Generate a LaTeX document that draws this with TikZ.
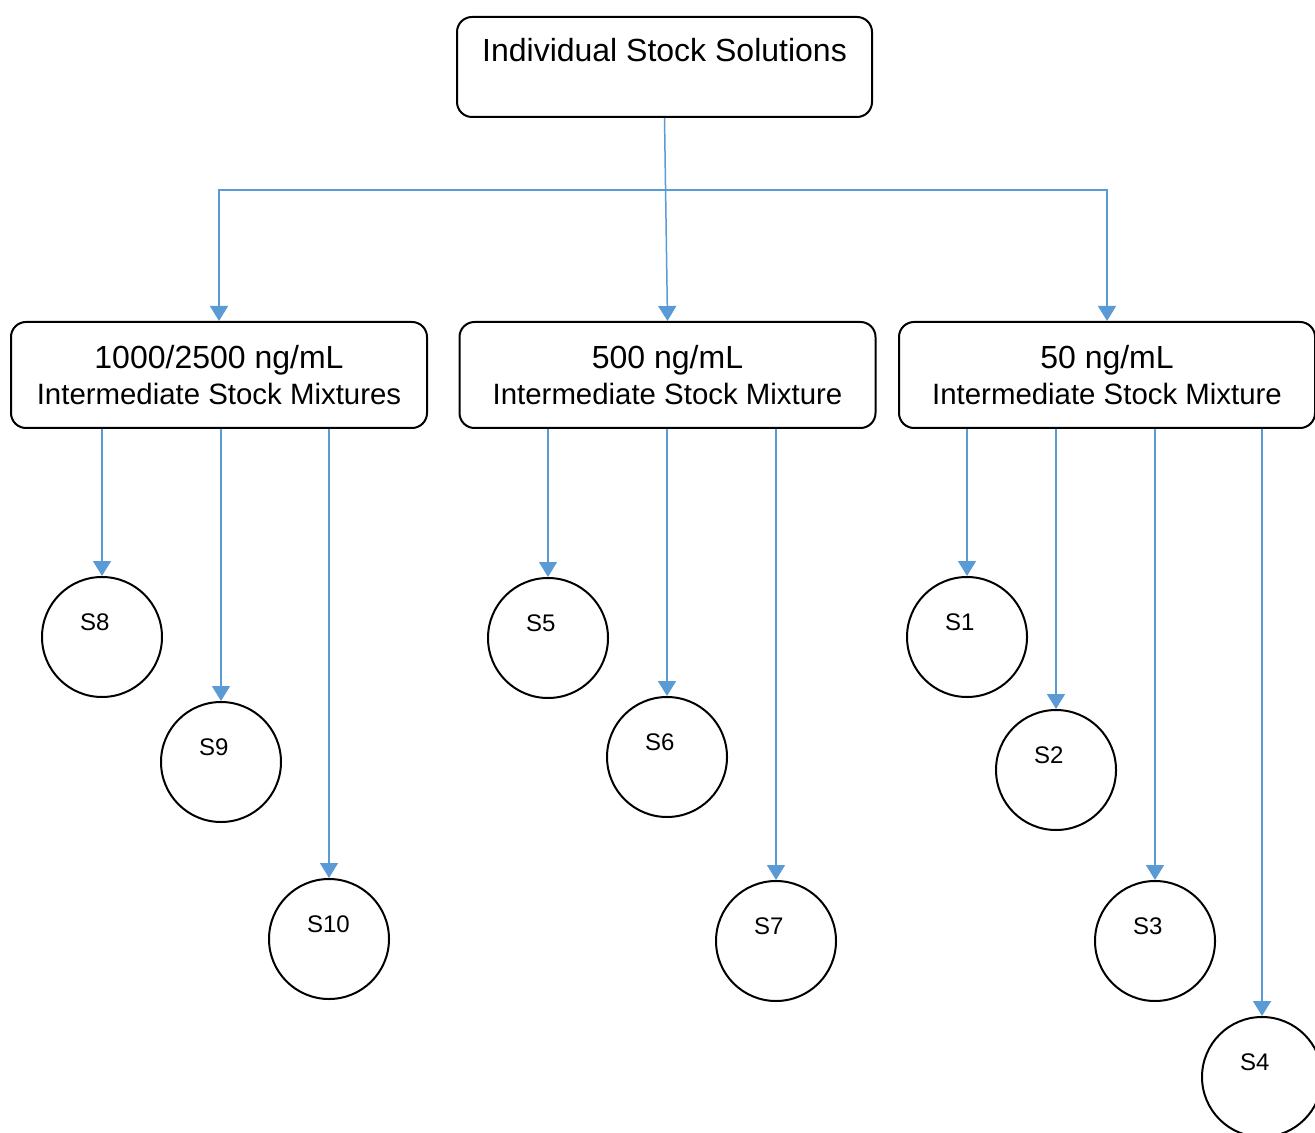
\documentclass[tikz,border=0pt]{standalone}
\usepackage{fontspec}
\setmainfont{Liberation Sans}
\usetikzlibrary{arrows.meta}
\definecolor{linkblue}{RGB}{91, 155, 213}
\newcommand{\subline}[1]{{\fontsize{14.7}{18}\selectfont #1}}

\begin{document}
\begin{tikzpicture}[x=0.5pt, y=-0.5pt,
    stockbox/.style={draw, line width=1pt, rounded corners=7.5pt, minimum width=208pt, minimum height=53pt,
        inner sep=0pt, align=center, font=\fontsize{16}{18}\selectfont},
    sample/.style={draw, line width=1pt, circle, minimum size=60pt, inner sep=0pt,
        text width=22pt, align=left, text height=9pt, text depth=16pt, font=\fontsize{12}{14}\selectfont},
    link/.style={linkblue, line width=0.75pt, -{Triangle[width=9pt, length=7.5pt]}}]
    \useasboundingbox (0,0) rectangle (1315,1133);

    % Stock solutions
    \node[stockbox, minimum width=207.5pt, minimum height=50pt, text height=22.5pt, text depth=27.5pt]
        (top) at (664.5,67) {Individual Stock Solutions};

    % Intermediate mixtures
    \node[stockbox] (mix1) at (219,375) {1000/2500 ng/mL\\\subline{Intermediate Stock Mixtures}};
    \node[stockbox] (mix2) at (667.5,375) {500 ng/mL\\\subline{Intermediate Stock Mixture}};
    \node[stockbox] (mix3) at (1107,375) {50 ng/mL\\\subline{Intermediate Stock Mixture}};

    % Distribution bar
    \coordinate (bar) at (667,190);
    \draw[link] (top.south) -- (mix2.north);
    \draw[link] (bar) -| (mix1.north);
    \draw[link] (bar) -| (mix3.north);

    % Standards S1 -- S10
    \foreach \name/\x/\y/\src in {8/102/637/mix1, 9/221/762/mix1, 10/329/939/mix1,
        5/548/638/mix2, 6/667/757/mix2, 7/776/941/mix2,
        1/967/637/mix3, 2/1056/770/mix3, 3/1155/941/mix3, 4/1262/1077/mix3} {
        \node[sample] (s\name) at (\x,\y) {S\name};
        \draw[link] (s\name.north |- \src.south) -- (s\name.north);
    }
\end{tikzpicture}
\end{document}
